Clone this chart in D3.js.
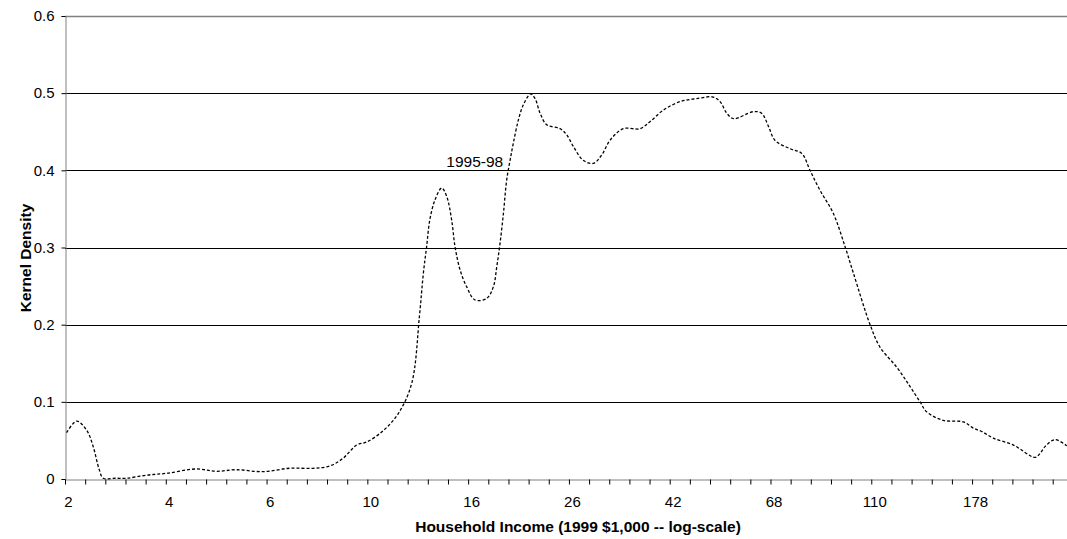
<!DOCTYPE html>
<html>
<head>
<meta charset="utf-8">
<script src="https://cdn.jsdelivr.net/npm/d3@7"></script>
<style>
  body { margin: 0; background: #fff; }
  text { font-family: Arial, "Liberation Sans", sans-serif; }
</style>
</head>
<body>
<div id="chart"></div>
<script>
// category position (tick units along the log-income axis) and kernel density
let xIndex = [0.08, 0.58, 1.08, 1.4, 1.7, 1.9, 2.5, 3.06, 4.05, 5.05, 6.53, 7.5, 8.5, 9.84,
  11.16, 12.3, 13.15, 13.8, 14.47, 14.97, 15.8, 16.54, 17.2, 17.58, 17.78, 17.94, 18.1,
  18.36, 18.69, 18.94, 19.18, 19.35, 19.6, 19.93, 20.34, 20.92, 21.25, 21.42, 21.58,
  21.75, 21.91, 22.08, 22.24, 22.49, 22.74, 23.1, 23.32, 23.57, 23.9, 24.56, 24.89,
  25.22, 25.71, 26.21, 26.63, 27.04, 27.7, 28.53, 29.02, 29.68, 30.51, 31.34, 32.16,
  32.5, 32.83, 33.16, 34.15, 34.56, 34.9, 35.22, 35.97, 36.55, 36.96, 37.46, 38.12,
  38.7, 39.11, 39.94, 40.43, 41.26, 41.92, 42.42, 42.75, 43.57, 44.57, 45.06, 45.52,
  46.05, 47.05, 48.12, 48.37, 48.62, 49.11, 49.7];

let density = [0.060, 0.075, 0.063, 0.042, 0.012, 0.001, 0.001, 0.001, 0.005, 0.0074,
  0.013, 0.010, 0.012, 0.0095, 0.014, 0.0138, 0.017, 0.027, 0.044, 0.048, 0.063, 0.085,
  0.124, 0.210, 0.267, 0.301, 0.336, 0.362, 0.377, 0.366, 0.336, 0.301, 0.271, 0.249,
  0.232, 0.234, 0.249, 0.275, 0.305, 0.344, 0.387, 0.413, 0.435, 0.465, 0.485, 0.499,
  0.493, 0.474, 0.459, 0.454, 0.446, 0.431, 0.413, 0.409, 0.420, 0.439, 0.454, 0.454,
  0.463, 0.478, 0.489, 0.493, 0.495, 0.489, 0.474, 0.467, 0.476, 0.474, 0.457, 0.439,
  0.428, 0.422, 0.400, 0.374, 0.344, 0.301, 0.267, 0.200, 0.171, 0.145, 0.120, 0.100,
  0.087, 0.076, 0.074, 0.066, 0.061, 0.053, 0.044, 0.028, 0.033, 0.042, 0.051, 0.043];

let incomeLabels = ["2", "4", "6", "10", "16", "26", "42", "68", "110", "178"];
let yTicks = [0, 0.1, 0.2, 0.3, 0.4, 0.5, 0.6];
let seriesLabel = "1995-98";

let svgWidth = 1067;
let svgHeight = 539;

let margin = { top: 16, left: 65, bottom: 60 };
let height = svgHeight - margin.top - margin.bottom;

let svg = d3.select("#chart")
  .append("svg")
  .attr("width", svgWidth)
  .attr("height", svgHeight);

// 50 tick intervals, the last one runs past the right edge
let xScale = d3.scaleLinear()
  .domain([0, 50])
  .range([margin.left, margin.left + 50 * 20.157]);

let yScale = d3.scaleLinear()
  .domain([0, 0.6])
  .range([margin.top + height, margin.top]);

// gridlines
svg.append("g")
  .selectAll("line")
  .data(yTicks.filter(d => d > 0))
  .enter()
  .append("line")
  .attr("x1", margin.left)
  .attr("x2", svgWidth)
  .attr("y1", d => Math.round(yScale(d)) + 0.5)
  .attr("y2", d => Math.round(yScale(d)) + 0.5)
  .attr("stroke", d => d === 0.6 ? "#808080" : "#000")
  .attr("stroke-width", d => d === 0.6 ? 1.5 : 1);

// y axis
let leftAxis = d3.axisLeft(yScale)
  .tickValues(yTicks)
  .tickSize(4)
  .tickPadding(7)
  .tickFormat(d => d === 0 ? "0" : d3.format(".1f")(d));

let yAxis = svg.append("g")
  .attr("transform", `translate(${margin.left + 0.5}, 0)`)
  .call(leftAxis);
yAxis.select(".domain").attr("stroke", "#808080");
yAxis.selectAll(".tick line").attr("stroke", "#000");
yAxis.selectAll("text").attr("font-size", "15px").attr("fill", "#000")
  .attr("font-family", "Arial, 'Liberation Sans', sans-serif");

// x axis: a tick per category, a label every fifth
let tickIdx = d3.range(0, 50);
let bottomAxis = d3.axisBottom(xScale)
  .tickValues(tickIdx)
  .tickSize(5)
  .tickPadding(3)
  .tickSizeOuter(0)
  .tickFormat(d => d % 5 === 0 ? incomeLabels[d / 5] : "");

let xAxis = svg.append("g")
  .attr("transform", `translate(0, ${Math.round(yScale(0)) + 0.5})`)
  .call(bottomAxis);
xAxis.select(".domain").attr("stroke", "#808080");
xAxis.selectAll(".tick line").attr("stroke", "#000");
xAxis.selectAll("text")
  .attr("font-size", "15px")
  .attr("fill", "#000")
  .attr("dx", 3)
  .attr("dy", "1.3em")
  .attr("font-family", "Arial, 'Liberation Sans', sans-serif");

// density curve
let points = xIndex.map((x, i) => [x, density[i]]);
let line = d3.line()
  .x(d => xScale(d[0]))
  .y(d => yScale(d[1]))
  .curve(d3.curveCatmullRom);

svg.append("path")
  .datum(points)
  .attr("fill", "none")
  .attr("stroke", "#000")
  .attr("stroke-width", 1.3)
  .attr("stroke-dasharray", "3,2")
  .attr("d", line);

// series label
svg.append("text")
  .attr("x", xScale(18.92))
  .attr("y", yScale(0.404))
  .attr("font-size", "15.5px")
  .text(seriesLabel);

// axis titles
svg.append("text")
  .attr("transform", `translate(31, 258) rotate(-90)`)
  .attr("text-anchor", "middle")
  .attr("font-size", "15.5px")
  .attr("font-weight", "bold")
  .text("Kernel Density");

svg.append("text")
  .attr("x", 578)
  .attr("y", 532)
  .attr("text-anchor", "middle")
  .attr("font-size", "15.5px")
  .attr("font-weight", "bold")
  .text("Household Income (1999 $1,000 -- log-scale)");
</script>
</body>
</html>
